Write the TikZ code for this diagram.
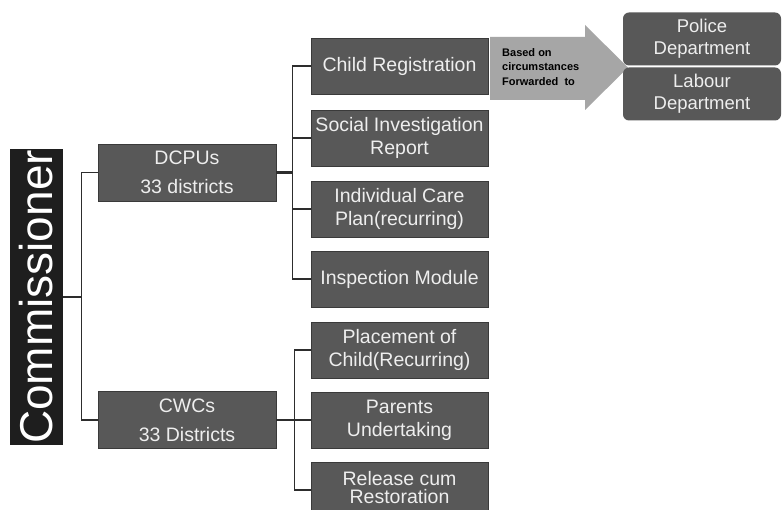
\documentclass[tikz,border=0pt]{standalone}
\usepackage{fontspec}
\setmainfont{Liberation Sans}
\definecolor{boxfill}{RGB}{88,88,88}
\definecolor{boxedge}{RGB}{58,58,58}
\definecolor{boxtext}{RGB}{238,238,238}
\definecolor{commfill}{RGB}{30,30,30}
\definecolor{arrowfill}{RGB}{166,166,166}
\definecolor{linkcol}{RGB}{45,45,45}
\begin{document}
\begin{tikzpicture}[x=1pt,y=-1pt,
  box/.style={draw=boxedge, line width=0.8pt, fill=boxfill, text=boxtext,
    minimum width=177pt, minimum height=56pt, inner sep=0pt, align=center,
    font=\fontsize{19.5}{23}\selectfont},
  unitbox/.style={box, minimum width=178pt, minimum height=57pt,
    font=\fontsize{19.5}{29}\selectfont},
  deptbox/.style={box, draw=none, rounded corners=6pt, minimum width=158pt,
    minimum height=53pt, font=\fontsize{18.5}{22}\selectfont},
  link/.style={draw=linkcol, line width=1.3pt},
  thicklink/.style={draw=linkcol, line width=2.6pt}]

\useasboundingbox[fill=white] (0,0) rectangle (782,510);

% head of the hierarchy
\node[fill=commfill, text=white, rotate=90, minimum width=296pt,
  minimum height=53pt, inner sep=0pt, font=\fontsize{46}{50}\selectfont]
  (comm) at (36.5,297) {Commissioner};

% district level units
\node[unitbox] (dcpu) at (187,172.5) {DCPUs\\33 districts};
\node[unitbox] (cwc)  at (187,420)   {CWCs\\33 Districts};

% DCPU activities
\node[box] (reg)  at (399.5,66)  {Child Registration};
\node[box] (sir)  at (399.5,138) {Social Investigation\\Report};
\node[box] (icp)  at (399.5,209) {Individual Care\\Plan(recurring)};
\node[box] (insp) at (399.5,279) {Inspection Module};

% CWC activities
\node[box] (place)   at (399.5,350) {Placement of\\Child(Recurring)};
\node[box] (parents) at (399.5,420) {Parents\\Undertaking};
\node[box] (release) at (399.5,490) {};
\node[align=center, inner sep=0pt, text=boxtext,
  font=\fontsize{19.5}{18}\selectfont] (releasetext) at (399.5,488)
  {Release cum\\Restoration};

% forwarding arrow
\fill[arrowfill] (490,37) -- (585,37) -- (585,25) -- (628,67.5)
  -- (585,110) -- (585,100) -- (490,100) -- cycle;
\node[anchor=west, align=left, inner sep=0pt,
  font=\bfseries\fontsize{11}{14.5}\selectfont] (fwd) at (502,67)
  {Based on\\circumstances\\Forwarded\ \ to};

% receiving departments
\node[deptbox] (police) at (702,39) {Police\\Department};
\node[deptbox] (labour) at (702,94) {Labour\\Department};

% connectors
\draw[link] (comm.south) -- ++(18,0) |- (dcpu.west);
\draw[link] (comm.south) -- ++(18,0) |- (cwc.west);

\draw[thicklink] (dcpu.east) -- ++(16,0);
\foreach \t in {reg,sir,icp,insp}
  \draw[link] (dcpu.east) ++(16,0) |- (\t.west);

\draw[link] (cwc.east) -- ++(18,0);
\foreach \t in {place,parents,release}
  \draw[link] (cwc.east) ++(18,0) |- (\t.west);

\end{tikzpicture}
\end{document}
